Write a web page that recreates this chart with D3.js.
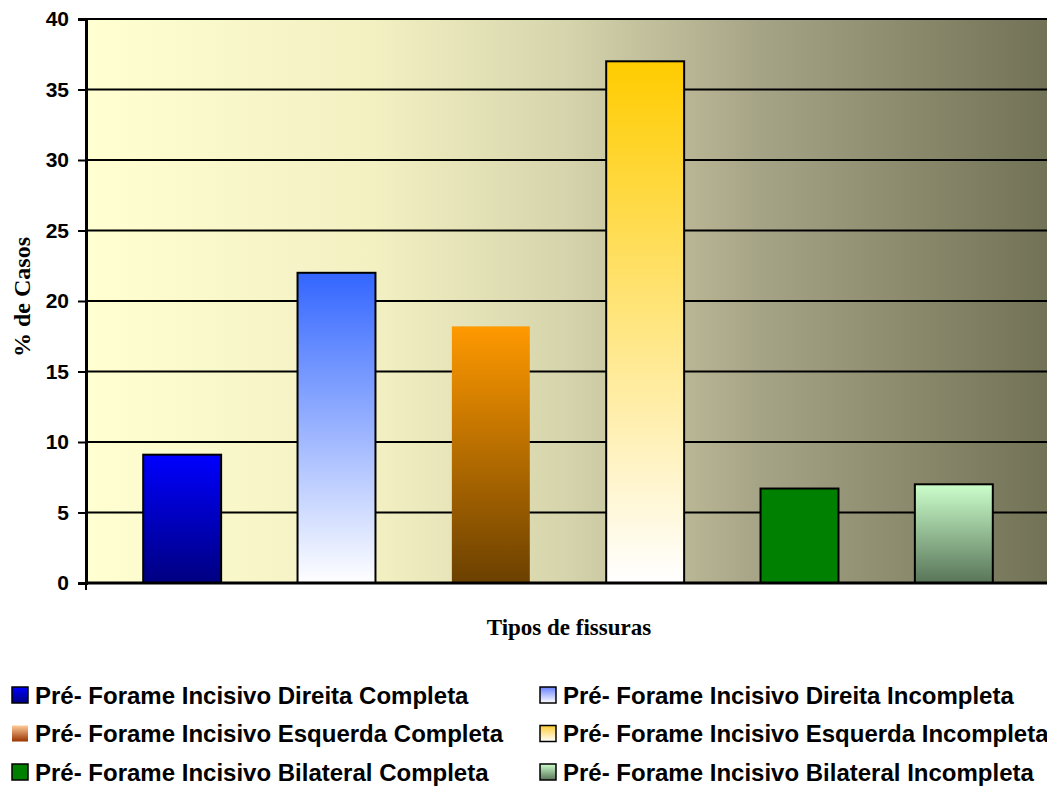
<!DOCTYPE html>
<html lang="pt">
<head>
  <meta charset="UTF-8">
  <title>Tipos de fissuras</title>
  <script src="https://d3js.org/d3.v7.min.js"></script>
  <style>
    body { margin: 0; background: #fff; overflow: hidden; }
    .tick text { font-family: "Liberation Sans", Arial, sans-serif; font-weight: bold; font-size: 21px; fill: #000; }
    .axis-title { font-family: "Liberation Serif", "Times New Roman", serif; font-weight: bold; }
    .legend text { font-family: "Liberation Sans", Arial, sans-serif; font-weight: bold; font-size: 24px; }
  </style>
</head>
<body>
<div id="chart"></div>
<script>
const categories = [
  "Pré- Forame Incisivo Direita Completa",
  "Pré- Forame Incisivo Direita Incompleta",
  "Pré- Forame Incisivo Esquerda Completa",
  "Pré- Forame Incisivo Esquerda Incompleta",
  "Pré- Forame Incisivo Bilateral Completa",
  "Pré- Forame Incisivo Bilateral Incompleta"
];
const values = [9.1, 22.0, 18.2, 37.0, 6.7, 7.0];
const yTicks = [0, 5, 10, 15, 20, 25, 30, 35, 40];
// gradient top / bottom colours per bar
const barTop = ["#0000ff", "#3366ff", "#ff9900", "#ffcc00", "#008000", "#ccffcc"];
const barBottom = ["#000080", "#ffffff", "#6b4000", "#ffffff", "#008000", "#587458"];
const legendTop = ["#0000ff", "#6680ff", "#ffcc99", "#ffcc33", "#008000", "#ccffcc"];
const legendBottom = ["#000080", "#ffffff", "#993300", "#ffffff", "#008000", "#587458"];

const W = 1047, H = 787;
const plot = { left: 86, top: 19, right: 1047, bottom: 583 };

const svg = d3.select("#chart").append("svg").attr("width", W).attr("height", H);
const defs = svg.append("defs");

const bg = defs.append("linearGradient").attr("id", "bg").attr("x1", 0).attr("x2", 1).attr("y1", 0).attr("y2", 0);
[[0, "#ffffd2"], [0.3, "#f3f0c2"], [0.5, "#d6d4ac"], [0.7, "#a6a486"], [1, "#727256"]]
  .forEach(s => bg.append("stop").attr("offset", s[0]).attr("stop-color", s[1]));

function vgrad(id, top, bottom) {
  const g = defs.append("linearGradient").attr("id", id).attr("x1", 0).attr("x2", 0).attr("y1", 0).attr("y2", 1);
  g.append("stop").attr("offset", 0).attr("stop-color", top);
  g.append("stop").attr("offset", 1).attr("stop-color", bottom);
}
categories.forEach((c, i) => {
  vgrad("bar" + i, barTop[i], barBottom[i]);
  vgrad("leg" + i, legendTop[i], legendBottom[i]);
});

const x = d3.scaleBand().domain(categories).range([105, 1031]).paddingInner(0.495).paddingOuter(0.2475);
const y = d3.scaleLinear().domain([0, 40]).range([plot.bottom, plot.top]);

svg.append("rect")
  .attr("x", plot.left).attr("y", plot.top)
  .attr("width", plot.right - plot.left).attr("height", plot.bottom - plot.top)
  .attr("fill", "url(#bg)");

// gridlines
svg.append("g").selectAll("line").data(yTicks.filter(d => d > 0)).join("line")
  .attr("x1", plot.left).attr("x2", plot.right)
  .attr("y1", d => y(d)).attr("y2", d => y(d))
  .attr("stroke", "#000").attr("stroke-width", 2);

// bars
svg.append("g").selectAll("rect").data(values).join("rect")
  .attr("x", (d, i) => x(categories[i]))
  .attr("y", d => y(d))
  .attr("width", x.bandwidth())
  .attr("height", d => y(0) - y(d))
  .attr("fill", (d, i) => `url(#bar${i})`)
  .attr("stroke", (d, i) => i === 2 ? "none" : "#000")
  .attr("stroke-width", 2);

// y axis
const yAxis = svg.append("g").attr("transform", `translate(${plot.left},0)`)
  .call(d3.axisLeft(y).tickValues(yTicks).tickSize(8).tickPadding(9));
yAxis.select(".domain").attr("stroke-width", 3);
yAxis.selectAll(".tick line").attr("stroke-width", 2);

// x axis line
svg.append("line")
  .attr("x1", plot.left - 1).attr("x2", plot.right)
  .attr("y1", plot.bottom).attr("y2", plot.bottom)
  .attr("stroke", "#000").attr("stroke-width", 3);
svg.append("line")
  .attr("x1", plot.left).attr("x2", plot.left)
  .attr("y1", plot.bottom).attr("y2", plot.bottom + 7)
  .attr("stroke", "#000").attr("stroke-width", 2);

svg.append("text").attr("class", "axis-title")
  .attr("transform", "translate(30,297) rotate(-90)")
  .attr("font-size", 24)
  .attr("text-anchor", "middle").text("% de Casos");
svg.append("text").attr("class", "axis-title")
  .attr("font-size", 23)
  .attr("x", 569).attr("y", 635).attr("text-anchor", "middle").text("Tipos de fissuras");

// legend
const legend = svg.append("g").attr("class", "legend");
categories.forEach((c, i) => {
  const col = i % 2, row = Math.floor(i / 2);
  const lx = col === 0 ? 12 : 540, ly = 695 + row * 38.5;
  legend.append("rect")
    .attr("x", lx).attr("y", ly - 8).attr("width", 16).attr("height", 16)
    .attr("fill", `url(#leg${i})`)
    .attr("stroke", i === 2 ? "none" : "#000").attr("stroke-width", 1.5);
  legend.append("text").attr("x", lx + 23).attr("y", ly + 8.5).text(c);
});
</script>
</body>
</html>
